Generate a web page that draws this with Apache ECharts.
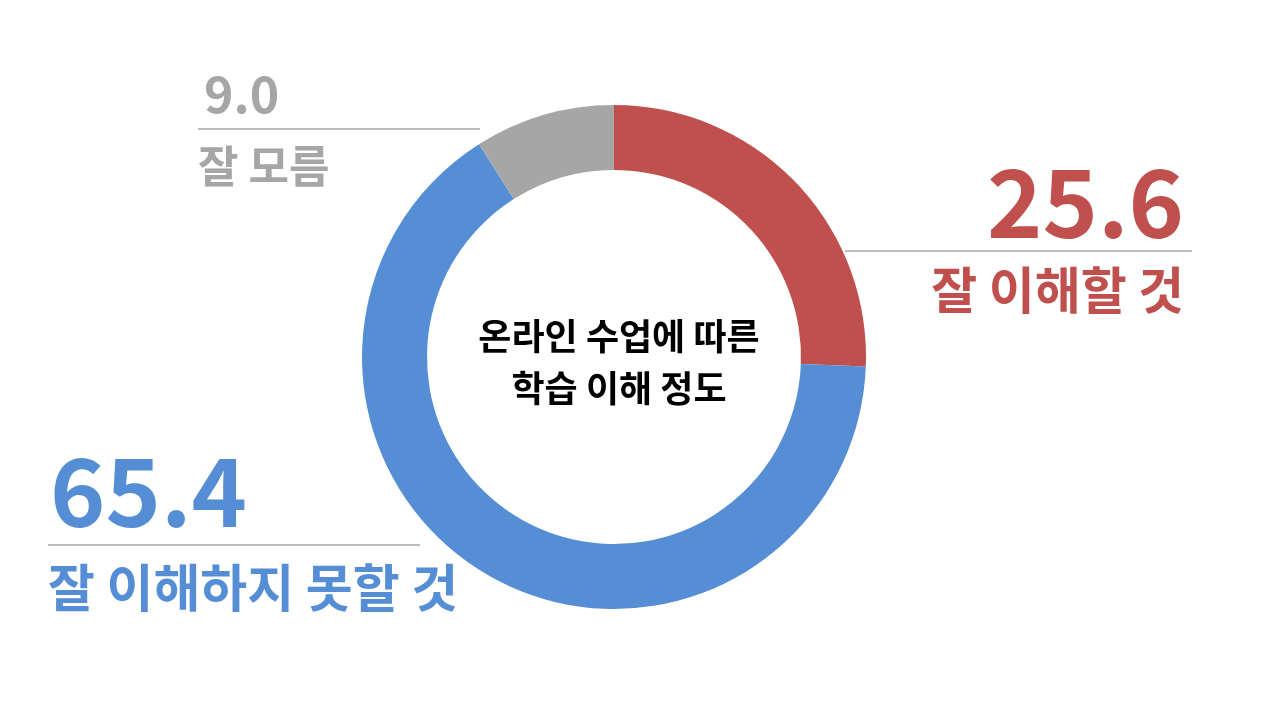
<!DOCTYPE html>
<html>
<head>
<meta charset="utf-8">
<script src="https://cdn.jsdelivr.net/npm/echarts@6/dist/echarts.min.js"></script>
<style>
  html, body { margin: 0; padding: 0; background: #fff; }
  #chart { width: 1280px; height: 720px; }
</style>
</head>
<body>
<div id="chart"></div>
<script>
// 응답 항목 (시계 방향, 12시 기준)
const categories = ['잘 이해할 것', '잘 이해하지 못할 것', '잘 모름'];
const values = [25.6, 65.4, 9.0];

const colors = ['#C0504D', '#558ED5', '#A6A6A6'];

// 라벨 배치 (x, y는 블록 기준점)
const labelPos = [
  { x: 1192, y: 154, align: 'right' },
  { x: 48, y: 439, align: 'left' },
  { x: 198, y: 59, align: 'left' }
];
// 값 / 구분선 / 이름 스타일
const labelStyle = [
  { vSize: 94, vLine: 96, nSize: 50, nLine: 76, hr: 347, vPad: 8, nPad: 8 },
  { vSize: 94, vLine: 105, nSize: 51, nLine: 83, hr: 372, vPad: 2, nPad: 0 },
  { vSize: 50, vLine: 69, nSize: 44, nLine: 73, hr: 282, vPad: 6, nPad: 0 }
];

const FONT = '"Noto Sans CJK KR", "Noto Sans", sans-serif';

const chart = echarts.init(document.getElementById('chart'));

function sidePad(align, n) {
  return align === 'right' ? [0, n, 0, 0] : [0, 0, 0, n];
}

let pieData = categories.map((name, i) => {
  let s = labelStyle[i];
  let a = labelPos[i].align;
  return {
    name: name,
    value: values[i],
    itemStyle: { color: colors[i] },
    label: {
      formatter: '{v|' + values[i].toFixed(1) + '}\n{hr|}\n{n|' + name + '}',
      rich: {
        v: {
          fontSize: s.vSize, lineHeight: s.vLine, fontWeight: 'bold',
          color: colors[i], fontFamily: FONT, align: a, padding: sidePad(a, s.vPad)
        },
        hr: {
          width: s.hr, height: 0, lineHeight: 2,
          borderColor: '#A6A6A6', borderWidth: 1, align: a
        },
        n: {
          fontSize: s.nSize, lineHeight: s.nLine, fontWeight: 'bold',
          color: colors[i], fontFamily: FONT, align: a, padding: sidePad(a, s.nPad)
        }
      }
    }
  };
});

let option = {
  backgroundColor: '#fff',
  animation: false,
  title: {
    text: '온라인 수업에 따른\n학습 이해 정도',
    left: 614,
    top: 357,
    textAlign: 'center',
    textVerticalAlign: 'middle',
    textStyle: {
      fontFamily: FONT,
      fontSize: 36,
      fontWeight: 'bold',
      color: '#000',
      lineHeight: 52
    }
  },
  series: [
    {
      type: 'pie',
      center: [614, 357],
      radius: [187, 252],
      startAngle: 90,
      clockwise: true,
      silent: true,
      avoidLabelOverlap: false,
      itemStyle: { borderWidth: 0 },
      label: { show: true, position: 'outside' },
      labelLine: { show: false },
      labelLayout: function (params) {
        let p = labelPos[params.dataIndex];
        return { x: p.x, y: p.y, align: p.align, verticalAlign: 'top' };
      },
      emphasis: { disabled: true },
      data: pieData
    }
  ]
};

chart.setOption(option);
</script>
</body>
</html>
